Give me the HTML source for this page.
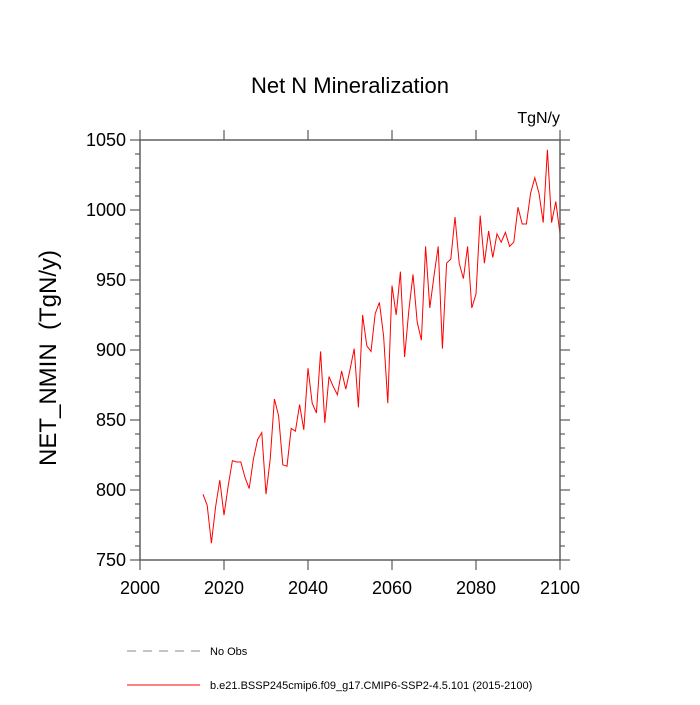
<!DOCTYPE html>
<html><head><meta charset="utf-8"><style>
body{margin:0;background:#fff}
text{font-family:"Liberation Sans",sans-serif}
</style></head><body>
<svg id="chart" width="700" height="700">
<text x="350" y="93" font-size="22" text-anchor="middle">Net N Mineralization</text>
<text x="560" y="123" font-size="16" text-anchor="end">TgN/y</text>
<text transform="translate(56,358) rotate(-90)" font-size="24" text-anchor="middle" style="white-space:pre">NET_NMIN  (TgN/y)</text>
<g id="axes"></g>
<path id="series" fill="none" stroke="#ff0000" stroke-width="1"/>
<rect x="140" y="140" width="420" height="420" fill="none" stroke="#555" stroke-width="1.4"/>
<line x1="127" y1="651" x2="200" y2="651" stroke="#888" stroke-dasharray="9,7"/>
<text x="210" y="655" font-size="11">No Obs</text>
<line x1="127" y1="685" x2="200" y2="685" stroke="#ff0000"/>
<text x="210" y="689" font-size="11">b.e21.BSSP245cmip6.f09_g17.CMIP6-SSP2-4.5.101 (2015-2100)</text>
</svg>
<script>
const startYear = 2015;
const values = [797,789,762,788,807,782,803,821,820,820,809,801,822,836,841,797,822,865,853,818,817,844,842,861,843,887,862,855,899,848,881,874,868,885,872,886,901,859,925,903,899,926,934,910,862,946,925,956,895,928,954,920,907,974,930,953,974,901,962,965,995,962,951,974,930,940,996,962,985,966,983,977,984,974,977,1002,990,990,1012,1023,1012,991,1043,991,1006,983];
const xTicks = [2000,2020,2040,2060,2080,2100];
const yTicks = [750,800,850,900,950,1000,1050];
const xs = yr => 140 + (yr-2000)*420/100;
const ys = v => 560 - (v-750)*420/300;
const NS="http://www.w3.org/2000/svg";
const ax=document.getElementById('axes');
function ln(x1,y1,x2,y2){const l=document.createElementNS(NS,'line');l.setAttribute('x1',x1);l.setAttribute('y1',y1);l.setAttribute('x2',x2);l.setAttribute('y2',y2);l.setAttribute('stroke','#666');l.setAttribute('stroke-width','1.3');ax.appendChild(l);return l;}
xTicks.forEach(t=>{const x=xs(t);
const t1=ln(x,560,x,570);


const t2=ln(x,140,x,130);

});
for(let v=750;v<=1050;v+=10){const M=v%50===0,L=M?10:5,y=ys(v);
const t1=ln(140,y,140-L,y);


const t2=ln(560,y,560+L,y);

}
xTicks.forEach(t=>{const e=document.createElementNS(NS,'text');e.setAttribute('x',xs(t));e.setAttribute('y',594);e.setAttribute('font-size','18');e.setAttribute('text-anchor','middle');e.textContent=t;


ax.appendChild(e);});
yTicks.forEach(t=>{const e=document.createElementNS(NS,'text');e.setAttribute('x',126);e.setAttribute('y',ys(t)+6);e.setAttribute('font-size','18');e.setAttribute('text-anchor','end');e.textContent=t;


ax.appendChild(e);});
document.getElementById('series').setAttribute('d',values.map((v,i)=>(i?'L':'M')+xs(startYear+i).toFixed(2)+','+ys(v).toFixed(2)).join(''));
</script>
</body></html>
